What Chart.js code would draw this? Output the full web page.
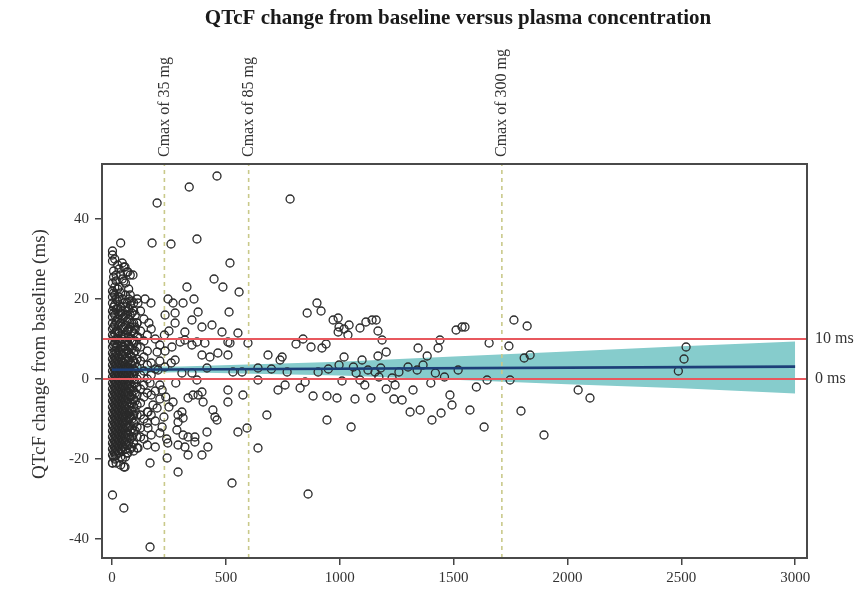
<!DOCTYPE html>
<html><head><meta charset="utf-8">
<script src="https://cdn.jsdelivr.net/npm/chart.js@4.4.0/dist/chart.umd.min.js"></script>
<style>html,body{margin:0;padding:0;background:#fff;}</style>
</head><body>
<canvas id="c" width="865" height="591"></canvas>
<script>
// ---------- data ----------
const chartTitle = 'QTcF change from baseline versus plasma concentration';
const yAxisTitle = 'QTcF change from baseline (ms)';
const xTicks = [0, 500, 1000, 1500, 2000, 2500, 3000];
const yTicks = [-40, -20, 0, 20, 40];
const xRange = [-44, 3052];
const yRange = [-44.75, 53.75];
const cmaxLabels = ['Cmax of 35 mg', 'Cmax of 85 mg', 'Cmax of 300 mg'];
const cmaxValues = [230, 600, 1712];
const refLevels = [10, 0];
const refLabels = ['10 ms', '0 ms'];
const regX = [0, 3000];
const regY = [2.3, 3.1];
const bandX = [0, 300, 1000, 1500, 2000, 2500, 3000];
const bandUpper = [3.2, 3.1, 4.3, 5.6, 6.9, 8.2, 9.4];
const bandLower = [1.4, 1.7, 0.9, -0.2, -1.3, -2.3, -3.6];

// dense low-concentration cluster: [concentration, [QTcF changes]]
const clusterColumns = [
  [2,  [32, 31, 29.5, 24, 22, 20.5, 19, 17, 15.5, 14, 12.5, 11, 9.5, 8, 6.5, 5, 3.5, 2, 0.5, -1, -2.5, -4, -5.5, -7, -8.5, -10, -11.5, -13, -14.5, -16, -17.5, -19, -21, -29]],
  [7,  [27, 25.5, 21.5, 18, 16.5, 13, 10.5, 8.5, 6, 4.5, 3, 1.5, 0, -1.5, -3, -4.5, -6, -7.5, -9, -10.5, -12, -13.5, -15, -16.5, -18, -19.5]],
  [12, [30, 23, 21, 18.5, 16, 13.5, 11.5, 9, 7, 5.5, 4, 2.5, 1, -0.5, -2, -3.5, -5, -6.5, -8, -9.5, -11, -12.5, -14, -15.5, -17, -18.5, -20]],
  [18, [26, 24.5, 20, 17.5, 14.5, 12, 10, 8, 6.5, 5, 3.5, 2, 0.5, -1, -2.5, -4, -5.5, -7, -8.5, -10, -11.5, -13, -14.5, -16, -17.5, -19, -21]],
  [25, [28.5, 22.5, 19.5, 17.5, 15, 12, 10, 8.5, 6, 4.5, 3, 1.5, 0, -1.5, -3, -4.5, -6, -7.5, -9, -10.5, -12, -13.5, -15, -16.5, -18]],
  [31, [27.5, 23, 20.5, 16, 13.5, 11.5, 9.5, 7, 5.5, 4, 2.5, 1, -0.5, -2, -3.5, -5, -6.5, -8, -9.5, -11, -12.5, -14, -15.5, -17, -18.5]],
  [38, [34, 26, 21.5, 18, 16.5, 14, 11, 9, 7.5, 5, 3.5, 2, 0.5, -1, -2.5, -4, -5.5, -7, -8.5, -10, -11.5, -13, -14.5, -16, -17.5, -19.5, -21.5]],
  [45, [29, 25, 20, 17, 15, 12.5, 10, 8, 6, 4.5, 3, 1.5, 0, -1.5, -3, -4.5, -6, -7.5, -9, -10.5, -12, -13.5, -15, -16.5, -18, -20]],
  [52, [28, 24.5, 19, 15.5, 13, 10.5, 8, 6.5, 4, 2.5, 1, -0.5, -2, -3.5, -5, -6.5, -8, -9.5, -11, -12.5, -14, -15.5, -17, -22, -32.25]],
  [59, [24, 21, 18, 16, 13.5, 11, 9, 7.5, 5, 3.5, 2, 0.5, -1, -2.5, -4, -5.5, -7, -8.5, -10, -11.5, -13, -14.5, -16, -17.5, -19.5]],
  [66, [26.75, 19, 17, 14.5, 12, 9.5, 7, 5.5, 3, 1.5, 0, -1.5, -3, -4.5, -6, -7.5, -9, -10.5, -12, -13.5, -15, -16.5, -18.5]],
  [73, [22.5, 20, 17.5, 15, 12.5, 10.5, 8.5, 6.5, 4.5, 2.5, 1, -0.5, -2, -3.5, -5, -7, -8.5, -10, -12, -14, -16]],
  [80, [26, 21, 18.5, 16, 13, 10, 8, 6, 4, 2, 0.5, -1, -2.5, -4.5, -6, -8, -9.5, -11.5, -13, -15, -17.5]],
  [87, [19.5, 16.5, 14, 12, 9.5, 7.5, 5.5, 3.5, 1.5, 0, -2, -4, -6, -8, -10, -12.5, -14.5, -17]],
  [95, [19, 17, 14, 11.5, 9, 6.5, 4.5, 2.5, 1, -1, -3, -5, -7, -9, -11, -13.5, -16, -18]],
  [102, [16, 12.5, 9.5, 7, 4, 2, -1, -3.5, -5.5, -8, -10.5, -13]],
  [110, [20, 14, 10.5, 8, 5, 3, 0, -2, -4, -6.5, -9, -12, -14.5, -17.25]],
  [125, [17, 12, 8, 4.5, 1, -2.5, -6, -9, -12.25, -14.5]],
  [140, [15, 9.5, 5.5, 2, -1.5, -4.5, -10, -15]],
  [155, [11, 7, 3.5, 0, -3.5, -8.25, -11, -16.5]],
  [172, [12.5, 4, 1, -4, -9, -14]],
  [190, [10, 2.5, -3, -10.5, -17]],
  [210, [8.5, 4.5, -1.5, -5, -13.5]]
];

// scattered observations: [concentration, QTcF change]
const scatterPoints = [
  [198, 44], [339, 48], [461, 50.75], [782, 45], [176, 34], [259, 33.75], [373, 35],
  [57, 28], [70, 26.75], [92, 26], [518, 29], [448, 25], [487, 23], [558, 21.75], [329, 23],
  [145, 20], [171, 19], [114, 19], [246, 20], [268, 19], [312, 19], [360, 20], [514, 16.75],
  [378, 16.75], [233, 16], [277, 16.5], [162, 14], [351, 14.75], [439, 13.5], [483, 11.75],
  [553, 11.5], [597, 9], [277, 14], [320, 11.75], [395, 13], [299, 9.25], [373, 9.25],
  [509, 9.25], [408, 9], [685, 6], [747, 5.5], [198, 6.75], [233, 7], [263, 8], [320, 9.75],
  [114, 10.5], [70, 12], [101, 13], [110, 14],
  [277, 4.75], [395, 6], [430, 5.5], [465, 6.5], [509, 6], [738, 4.75], [518, 9], [351, 8.5],
  [202, 2.25], [307, 1.5], [351, 1.5], [417, 2.75], [531, 1.75], [571, 1.75], [641, 2.75],
  [769, 1.75], [641, -0.25], [729, -2.75], [373, -0.25], [167, -1], [220, -2.75], [180, -6.5],
  [198, -7.25], [158, -8.25], [268, -5.75], [334, -4.75], [356, -4], [378, -4], [395, -3.25],
  [400, -5.75], [307, -8.25], [290, -9], [312, -9.75], [443, -7.75], [452, -9.5], [461, -10.25],
  [509, -2.75], [509, -5.75], [575, -4], [290, -10.75], [220, -12], [158, -12.25], [285, -12.75],
  [312, -14], [334, -14.5], [364, -14.5], [364, -15.75], [417, -13.25], [421, -17], [395, -19],
  [334, -19], [290, -16.5], [320, -17], [242, -19.75], [290, -23.25], [114, -17.25], [70, -18.5],
  [2, -21], [57, -22], [167, -21], [553, -13.25], [593, -12.25], [641, -17.25], [527, -26],
  [167, -42], [230, 11], [232, 3], [236, -4.5], [228, -9.5], [240, -15], [250, 12], [260, 4],
  [280, -1], [250, -7], [245, -16],
  [857, 16.5], [900, 19], [918, 17], [971, 14.75], [993, 15.25], [993, 11.75], [997, 13],
  [1019, 12.5], [1041, 13.5], [1036, 11], [940, 8.75], [808, 8.75], [839, 10], [874, 8],
  [922, 7.75], [905, 1.75], [848, -0.75], [826, -2.25], [883, -4.25], [944, -4.25], [944, -10.25],
  [861, -28.75], [1050, -12], [988, -4.75], [1019, 5.5], [997, 3.5], [1089, 12.75], [1115, 14.25],
  [1142, 14.75], [1160, 14.75], [1168, 12], [1186, 9.75], [1204, 6.75], [1168, 5.75], [1098, 4.75],
  [1124, 2.25], [1089, -0.25], [1067, -5], [1072, 1.5], [1137, -4.75], [1155, 1.75], [1172, 0.5],
  [1230, 0.25], [1243, -1.5], [1238, -5], [1204, -2.5], [1274, -5.25], [1309, -8.25], [1322, -2.75],
  [1353, -7.75], [1344, 7.75], [1366, 3.5], [1384, 5.75], [1432, 7.75], [1440, 9.75], [1445, -8.5],
  [1405, -10.25], [1484, -4], [1493, -6.5], [1511, 12.25], [1537, 13], [1550, 13], [1572, -7.75],
  [1634, -12], [1647, -0.25], [1656, 9], [1743, 8.25], [1748, -0.25], [1765, 14.75], [1823, 13.25],
  [1810, 5.25], [1836, 6], [1796, -8], [1897, -14], [2047, -2.75], [2099, -4.75], [2487, 2],
  [2512, 5], [2521, 8],
  [950, 2.5], [1010, -0.5], [1060, 3], [1110, -1.5], [1180, 2.75], [1260, 1.75], [1300, 3],
  [1340, 2.25], [1400, -1], [1420, 1.5], [1460, 0.5], [1520, 2.25], [1600, -2], [700, 2.5],
  [760, -1.5], [680, -9]
];

// ---------- build datasets ----------
const serif = '"Liberation Serif", "Times New Roman", serif';
const obs = [];
clusterColumns.forEach(([cx, ys]) => ys.forEach(y => obs.push({x: cx, y})));
scatterPoints.forEach(([x, y]) => obs.push({x, y}));

const lineDs = (data, color, width, order, extra) => Object.assign({
  type: 'scatter', data, showLine: true, pointRadius: 0, borderColor: color,
  borderWidth: width, fill: false, order
}, extra || {});

const datasets = [
  lineDs(bandX.map((x, i) => ({x, y: bandUpper[i]})), 'rgba(0,0,0,0)', 0, 5,
    {fill: '+1', backgroundColor: '#86cccc'}),
  lineDs(bandX.map((x, i) => ({x, y: bandLower[i]})), 'rgba(0,0,0,0)', 0, 6),
  ...cmaxValues.map(v => lineDs([{x: v, y: yRange[0]}, {x: v, y: yRange[1]}], '#c9c98a', 1.6, 4,
    {borderDash: [4, 4]})),
  {type: 'scatter', data: obs, pointRadius: 4, pointBorderWidth: 1.3, pointBorderColor: '#2a2a2a',
    pointBackgroundColor: 'rgba(0,0,0,0)', order: 2},
  lineDs(regX.map((x, i) => ({x, y: regY[i]})), '#1d3f78', 2.6, 1),
  ...refLevels.map(v => lineDs([{x: xRange[0], y: v}, {x: xRange[1], y: v}], '#e8585e', 1.8, 0))
];

const textPlugin = {
  id: 'frameText',
  afterDraw(chart) {
    const {ctx, chartArea: a, scales} = chart;
    ctx.save();
    ctx.strokeStyle = '#4a4a4a';
    ctx.lineWidth = 2;
    ctx.strokeRect(a.left, a.top, a.right - a.left, a.bottom - a.top);
    ctx.fillStyle = '#1a1a1a';
    ctx.font = 'bold 21px ' + serif;
    ctx.textAlign = 'center';
    ctx.textBaseline = 'middle';
    ctx.fillText(chartTitle, 458, 19);
    ctx.fillStyle = '#333';
    ctx.save();
    ctx.translate(40, 354);
    ctx.rotate(-Math.PI / 2);
    ctx.font = '19px ' + serif;
    ctx.fillText(yAxisTitle, 0, 0);
    ctx.restore();
    ctx.font = '16px ' + serif;
    cmaxValues.forEach((v, i) => {
      ctx.save();
      ctx.translate(scales.x.getPixelForValue(v), a.top - 7);
      ctx.rotate(-Math.PI / 2);
      ctx.textAlign = 'left';
      ctx.fillText(cmaxLabels[i], 0, 0);
      ctx.restore();
    });
    ctx.font = '16px ' + serif;
    ctx.textAlign = 'left';
    refLevels.forEach((v, i) => ctx.fillText(refLabels[i], a.right + 8, scales.y.getPixelForValue(v)));
    ctx.restore();
  }
};

new Chart(document.getElementById('c'), {
  type: 'scatter',
  data: {datasets},
  options: {
    responsive: false, animation: false, devicePixelRatio: 1,
    layout: {padding: {left: 0, right: 58, top: 164, bottom: 0}},
    plugins: {legend: {display: false}, tooltip: {enabled: false}, title: {display: false}},
    scales: {
      x: {
        type: 'linear', min: xRange[0], max: xRange[1],
        afterBuildTicks: s => { s.ticks = xTicks.map(v => ({value: v})); },
        afterFit: s => { s.height = 33; },
        grid: {display: true, drawOnChartArea: false, drawTicks: true, tickLength: 7, color: '#444', lineWidth: 1.5},
        border: {display: true, color: '#4a4a4a', width: 2},
        ticks: {font: {family: serif, size: 15}, color: '#333', padding: 4, maxRotation: 0,
          callback: v => String(v)}
      },
      y: {
        type: 'linear', min: yRange[0], max: yRange[1],
        afterBuildTicks: s => { s.ticks = yTicks.map(v => ({value: v})); },
        afterFit: s => { s.width = 102; },
        grid: {display: true, drawOnChartArea: false, drawTicks: true, tickLength: 7, color: '#444', lineWidth: 1.5},
        border: {display: true, color: '#4a4a4a', width: 2},
        ticks: {font: {family: serif, size: 15}, color: '#333', padding: 6, callback: v => String(v)}
      }
    }
  },
  plugins: [textPlugin]
});
</script>
</body></html>
